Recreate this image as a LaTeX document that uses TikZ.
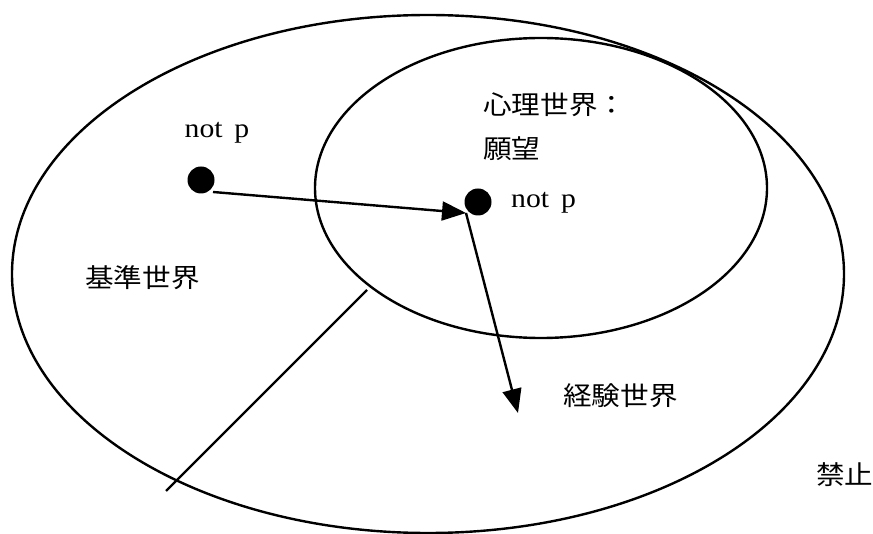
\documentclass[tikz,border=0pt]{standalone}
\usepackage{fontspec}
\setmainfont{Liberation Serif}
\newfontfamily\cjk{Noto Sans CJK JP}
\usetikzlibrary{shapes.geometric,arrows.meta}
\newcommand\wx[1]{\scalebox{1.1}[1]{#1}}
\tikzset{
  world/.style={draw, ellipse, line width=2.4pt, inner sep=0pt, outer sep=0pt},
  dotnode/.style={circle, fill=black, minimum size=27pt, inner sep=0pt},
  latlabel/.style={font=\fontsize{27}{27}\selectfont, inner sep=0pt},
  jlabel/.style={font=\cjk\fontsize{26}{26}\selectfont, inner sep=0pt, anchor=west},
  conn/.style={line width=2.4pt, -{Triangle[length=24pt,width=19pt]}},
}
\begin{document}
\begin{tikzpicture}[x=1pt,y=-1pt]
\useasboundingbox (0,0) rectangle (873,534);
\node[world, minimum width=832pt, minimum height=518pt] (big) at (428,274) {};
\node[world, minimum width=452pt, minimum height=300pt] (small) at (541,188) {};
\node[dotnode] (d1) at (201,180) {};
\node[dotnode] (d2) at (478,202) {};
\coordinate (s1) at (213,192);
\coordinate (j) at (466,213);
\coordinate (e2) at (518,413);
\draw[conn] (s1) -- (j);
\draw[conn] (j) -- (e2);
\coordinate (l1) at (367,290);
\coordinate (l2) at (166,491);
\draw[line width=2.2pt] (l1) -- (l2);
\node[latlabel] (np1) at (217,133) {\wx{not\hspace{0.4em}p}};
\node[latlabel, anchor=west] (np2) at (511,203) {\wx{not\hspace{0.4em}p}};
\node[jlabel] (shinri) at (483,105) {\wx{心理世界：}};
\node[jlabel] (ganbo) at (483,149) {\wx{願望}};
\node[jlabel] (kijun) at (85,278) {\wx{基準世界}};
\node[jlabel] (keiken) at (563,396) {\wx{経験世界}};
\node[jlabel] (kinshi) at (816,475) {\wx{禁止}};
\end{tikzpicture}
\end{document}
